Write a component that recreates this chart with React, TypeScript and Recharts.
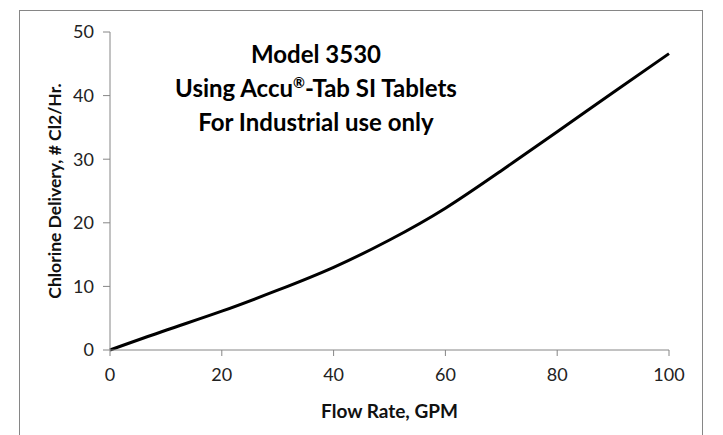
import { LineChart, Line, XAxis, YAxis, Label } from 'recharts'

const flowRate = [0, 10, 20, 30, 40, 50, 60, 70, 80, 90, 100]
const chlorine = [0, 3.1, 6.1, 9.4, 13.0, 17.3, 22.3, 28.2, 34.3, 40.5, 46.6]
const xTicks = [0, 20, 40, 60, 80, 100]
const yTicks = [0, 10, 20, 30, 40, 50]
const titleLines = ['Model 3530', 'Using Accu®-Tab SI Tablets', 'For Industrial use only']

const data = flowRate.map((x, i) => ({ x, y: chlorine[i] }))

const axisGray = '#868686'
const font = 'Lato, "Open Sans", sans-serif'

// renders the ® as a small raised mark like the original
function titleText(t: string) {
  const parts = t.split('®')
  if (parts.length < 2) return t
  return (
    <>
      {parts[0]}
      <sup style={{ fontSize: '0.6em', lineHeight: 0 }}>®</sup>
      {parts[1]}
    </>
  )
}

export default function App() {
  return (
    <div style={{ position: 'absolute', left: 0, top: 0, width: 723, height: 435, overflow: 'hidden', background: '#fff' }}>
      <div
        style={{
          position: 'absolute',
          left: 19,
          top: 10,
          width: 684,
          height: 440,
          border: `1px solid ${axisGray}`,
          boxSizing: 'border-box',
        }}
      />
      <LineChart
        width={723}
        height={435}
        data={data}
        margin={{ top: 32, right: 54, bottom: 55, left: 0 }}
        style={{ position: 'absolute', left: 0, top: 0 }}
      >
        <XAxis
          dataKey="x"
          type="number"
          domain={[0, 100]}
          ticks={xTicks}
          stroke={axisGray}
          tickSize={6}
          tickMargin={12}
          height={30}
          tick={{ fill: '#222', fontSize: 18, fontFamily: font }}
        >
          <Label
            value="Flow Rate, GPM"
            position="insideBottom"
            offset={-38}
            style={{ fill: '#111', fontSize: 19, fontWeight: 700, fontFamily: font }}
          />
        </XAxis>
        <YAxis
          dataKey="y"
          type="number"
          domain={[0, 50]}
          ticks={yTicks}
          stroke={axisGray}
          tickSize={7}
          tickMargin={9}
          width={110}
          tick={{ fill: '#222', fontSize: 18, fontFamily: font }}
        >
          <Label
            value="Chlorine Delivery, # Cl2/Hr."
            angle={-90}
            position="insideLeft"
            offset={55}
            style={{ textAnchor: 'middle', fill: '#111', fontSize: 17.5, fontWeight: 700, fontFamily: font }}
          />
        </YAxis>
        <Line
          type="natural"
          dataKey="y"
          stroke="#000"
          strokeWidth={3}
          dot={false}
          isAnimationActive={false}
        />
      </LineChart>
      <div
        style={{
          position: 'absolute',
          left: 116,
          top: 37,
          width: 400,
          textAlign: 'center',
          fontFamily: font,
          fontWeight: 700,
          fontSize: 24,
          lineHeight: '34px',
          color: '#000',
        }}
      >
        {titleLines.map(t => (
          <div key={t}>{titleText(t)}</div>
        ))}
      </div>
    </div>
  )
}
